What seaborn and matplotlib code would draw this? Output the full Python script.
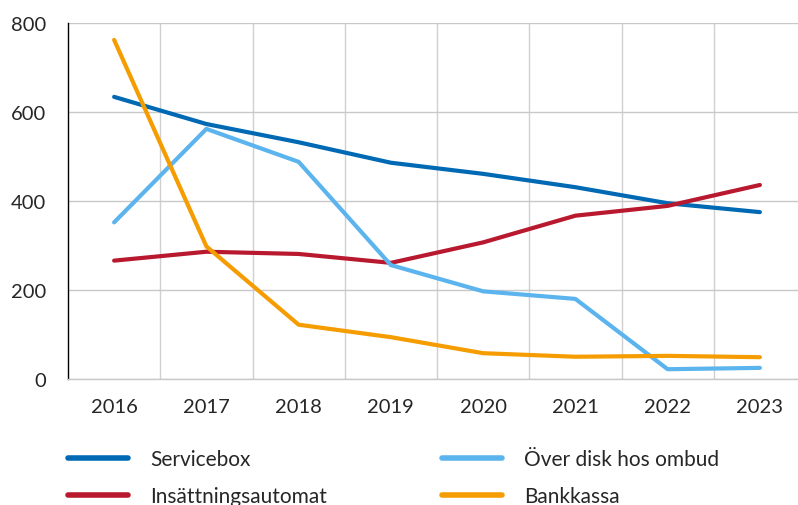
import pandas as pd
import matplotlib.pyplot as plt
import seaborn as sns
from matplotlib.ticker import FixedLocator

# Data
years = [2016, 2017, 2018, 2019, 2020, 2021, 2022, 2023]
servicebox = [634, 573, 532, 486, 461, 431, 395, 375]
insattningsautomat = [266, 286, 281, 261, 307, 367, 389, 436]
over_disk = [352, 562, 488, 256, 197, 180, 22, 25]
bankkassa = [762, 298, 122, 94, 58, 50, 52, 49]

series_names = ['Servicebox', 'Insättningsautomat', 'Över disk hos ombud', 'Bankkassa']
series_values = [servicebox, insattningsautomat, over_disk, bankkassa]
colors = ['#0069B4', '#B8192E', '#5CB4EE', '#F59C00']

df = pd.DataFrame({
    'year': years * len(series_names),
    'value': [v for vals in series_values for v in vals],
    'serie': [n for n in series_names for _ in years],
})

sns.set_style('white')
plt.rcParams['font.family'] = ['Lato', 'DejaVu Sans']

fig = plt.figure(figsize=(7.98, 5.06), dpi=100)
ax = fig.add_axes([68 / 798, 126 / 506, 738 / 798, 356 / 506])

sns.lineplot(data=df, x='year', y='value', hue='serie', hue_order=series_names,
             palette=colors, linewidth=3, sort=False, ax=ax, legend=False)

ax.set_xlim(2015.5, 2023.5)
ax.set_ylim(0, 800)
ax.set_xticks(years)
ax.set_xticklabels([str(y) for y in years])
ax.set_yticks([0, 200, 400, 600, 800])
ax.xaxis.set_minor_locator(FixedLocator([y + 0.5 for y in years[:-1]]))
ax.set_xlabel('')
ax.set_ylabel('')

ax.grid(axis='y', which='major', color='#c8c8c8', linewidth=1)
ax.grid(axis='x', which='minor', color='#d0d0d0', linewidth=1)
ax.grid(axis='x', which='major', visible=False)
ax.set_axisbelow(True)

for side in ['top', 'right']:
    ax.spines[side].set_visible(False)
ax.spines['left'].set_color('black')
ax.spines['left'].set_linewidth(1)
ax.spines['bottom'].set_color('#c8c8c8')
ax.spines['bottom'].set_linewidth(1)

ax.tick_params(axis='y', which='major', direction='in', length=7, width=1,
               color='black', pad=16, labelsize=14.5)
ax.tick_params(axis='x', which='both', length=0, pad=14, labelsize=14.5)

# Legend in two columns under the chart
handles = [plt.Line2D([], [], color=c, linewidth=4) for c in colors]
fig.legend(handles, series_names, ncol=2, loc='upper left',
           bbox_to_anchor=(68 / 798, 1 - 450 / 506), frameon=False,
           fontsize=15, handlelength=2.9, handletextpad=1.05,
           columnspacing=5.5, labelspacing=0.83, borderpad=0, borderaxespad=0)

fig.savefig('out.png', dpi=100)
